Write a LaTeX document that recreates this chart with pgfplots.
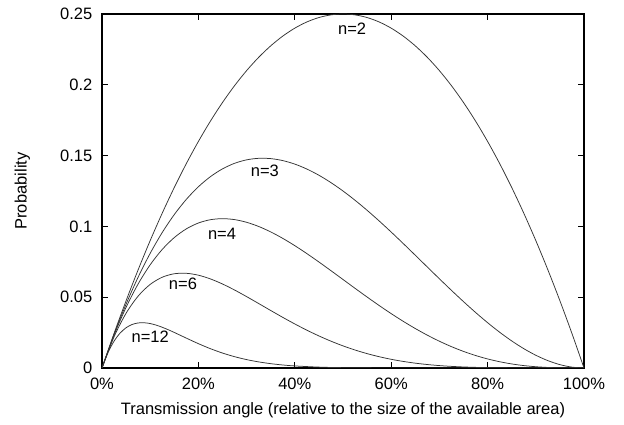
\documentclass[border=0pt]{standalone}
\usepackage{fontspec}
\setmainfont{Liberation Sans}
\usepackage{pgfplots}
\pgfplotsset{compat=1.18}
\begin{document}
\begin{tikzpicture}[x=1pt,y=1pt]
\fontsize{16.5}{19}\selectfont
\begin{axis}[
  scale only axis,
  width=482pt, height=354pt,
  xmin=0, xmax=100, ymin=0, ymax=0.25,
  axis line style={line width=1.1pt},
  tick style={line width=1pt, black},
  tick align=inside,
  major tick length=6pt,
  xtick={0,20,40,60,80,100},
  xticklabels={0\%,20\%,40\%,60\%,80\%,100\%},
  ytick={0,0.05,0.1,0.15,0.2,0.25},
  yticklabels={0,0.05,0.1,0.15,0.2,0.25},
  xticklabel style={yshift=-4pt},
  yticklabel style={xshift=-4pt},
  ticklabel style={font=\fontsize{16.5}{19}\selectfont},
  label style={font=\fontsize{16.5}{19}\selectfont},
  xlabel={Transmission angle (relative to the size of the available area)},
  ylabel={Probability},
  xlabel style={yshift=-2pt},
  ylabel style={yshift=19pt},
  clip=true,
]
\tikzset{curve/.style={line width=0.75pt, color=black!80, smooth, mark=none}}
% n=2
\addplot[curve] coordinates {(0,0)(2.5,0.024375)(5,0.0475)(7.5,0.069375)(10,0.09)(12.5,0.109375)(15,0.1275)(17.5,0.144375)(20,0.16)(22.5,0.174375)(25,0.1875)(27.5,0.199375)(30,0.21)(32.5,0.219375)(35,0.2275)(37.5,0.234375)(40,0.24)(42.5,0.244375)(45,0.2475)(47.5,0.249375)(50,0.25)(52.5,0.249375)(55,0.2475)(57.5,0.244375)(60,0.24)(62.5,0.234375)(65,0.2275)(67.5,0.219375)(70,0.21)(72.5,0.199375)(75,0.1875)(77.5,0.174375)(80,0.16)(82.5,0.144375)(85,0.1275)(87.5,0.109375)(90,0.09)(92.5,0.069375)(95,0.0475)(97.5,0.024375)(100,0)};
% n=3
\addplot[curve] coordinates {(0,0)(2.5,0.023766)(5,0.045125)(7.5,0.064172)(10,0.081)(12.5,0.095703)(15,0.108375)(17.5,0.119109)(20,0.128)(22.5,0.135141)(25,0.140625)(27.5,0.144547)(30,0.147)(32.5,0.148078)(35,0.147875)(37.5,0.146484)(40,0.144)(42.5,0.140516)(45,0.136125)(47.5,0.130922)(50,0.125)(52.5,0.118453)(55,0.111375)(57.5,0.103859)(60,0.096)(62.5,0.087891)(65,0.079625)(67.5,0.071297)(70,0.063)(72.5,0.054828)(75,0.046875)(77.5,0.039234)(80,0.032)(82.5,0.025266)(85,0.019125)(87.5,0.013672)(90,0.009)(92.5,0.005203)(95,0.002375)(97.5,0.000609)(100,0)};
% n=4
\addplot[curve] coordinates {(0,0)(2.5,0.023172)(5,0.042869)(7.5,0.059359)(10,0.0729)(12.5,0.08374)(15,0.092119)(17.5,0.098265)(20,0.1024)(22.5,0.104734)(25,0.105469)(27.5,0.104797)(30,0.1029)(32.5,0.099953)(35,0.096119)(37.5,0.091553)(40,0.0864)(42.5,0.080797)(45,0.074869)(47.5,0.068734)(50,0.0625)(52.5,0.056265)(55,0.050119)(57.5,0.04414)(60,0.0384)(62.5,0.032959)(65,0.027869)(67.5,0.023172)(70,0.0189)(72.5,0.015078)(75,0.011719)(77.5,0.008828)(80,0.0064)(82.5,0.004422)(85,0.002869)(87.5,0.001709)(90,0.0009)(92.5,0.00039)(95,0.000119)(97.5,0.000015)(100,0)};
% n=6
\addplot[curve] coordinates {(0,0)(2.5,0.022028)(5,0.038689)(7.5,0.050789)(10,0.059049)(12.5,0.064113)(15,0.066556)(17.5,0.066882)(20,0.065536)(22.5,0.062906)(25,0.059326)(27.5,0.055084)(30,0.050421)(32.5,0.045541)(35,0.04061)(37.5,0.035763)(40,0.031104)(42.5,0.026714)(45,0.022648)(47.5,0.018945)(50,0.015625)(52.5,0.012695)(55,0.010149)(57.5,0.007973)(60,0.006144)(62.5,0.004635)(65,0.003414)(67.5,0.002448)(70,0.001701)(72.5,0.00114)(75,0.000732)(77.5,0.000447)(80,0.000256)(82.5,0.000135)(85,0.000065)(87.5,0.000027)(90,0.000009)(95,0)(100,0)};
% n=12
\addplot[curve] coordinates {(0,0)(1.25,0.010885)(2.5,0.018923)(3.75,0.024628)(5,0.02844)(6.25,0.03073)(7.5,0.031813)(8.75,0.031957)(10,0.031381)(11.25,0.03027)(12.5,0.028774)(13.75,0.027019)(15,0.025101)(17.5,0.021092)(20,0.01718)(22.5,0.013634)(25,0.010559)(27.5,0.008001)(30,0.005932)(32.5,0.004308)(35,0.003063)(37.5,0.002132)(40,0.001451)(45,0.000627)(50,0.000244)(60,0.000017)(70,0)(100,0)};
\node[font=\fontsize{16.5}{19}\selectfont] at (axis cs:51.9,0.2394) {n=2};
\node[font=\fontsize{16.5}{19}\selectfont] at (axis cs:33.8,0.1391) {n=3};
\node[font=\fontsize{16.5}{19}\selectfont] at (axis cs:24.9,0.0946) {n=4};
\node[font=\fontsize{16.5}{19}\selectfont] at (axis cs:16.8,0.0593) {n=6};
\node[font=\fontsize{16.5}{19}\selectfont] at (axis cs:10.0,0.0219) {n=12};
\end{axis}
\path[use as bounding box] ([shift={(-102pt,-57pt)}]current axis.south west) rectangle ([shift={(40pt,14pt)}]current axis.north east);
\end{tikzpicture}
\end{document}
